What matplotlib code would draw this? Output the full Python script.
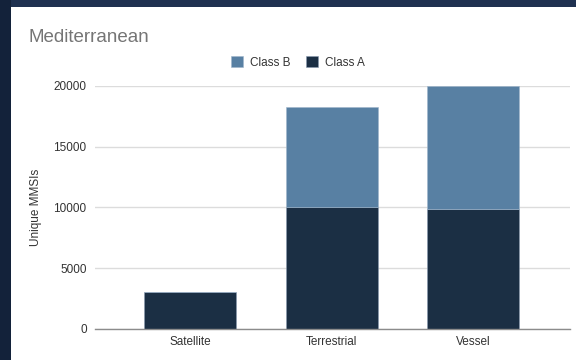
import matplotlib.pyplot as plt
from matplotlib.patches import Rectangle

plt.rcParams['font.family'] = ['Liberation Sans', 'DejaVu Sans']

# data
sources = ['Satellite', 'Terrestrial', 'Vessel']
class_a = [3000, 10000, 9900]
class_b = [0, 8300, 10100]
yticks = [0, 5000, 10000, 15000, 20000]

col_a = '#1b2f44'
col_b = '#5880a3'

fig = plt.figure(figsize=(5.76, 3.6), dpi=100)
fig.patch.set_facecolor('white')
ax = fig.add_axes([95 / 576, 1 - 328.7 / 360, 475 / 576, 242.7 / 360])

x = range(len(sources))
bars_a = ax.bar(x, class_a, width=0.65, color=col_a, edgecolor='#8a9bb0',
                linewidth=0.4, zorder=3, label='Class A')
bars_b = ax.bar(x, class_b, width=0.65, bottom=class_a, color=col_b,
                edgecolor='#9fb6cc', linewidth=0.4, zorder=3, label='Class B')

ax.set_xlim(-0.675, 2.685)
ax.set_ylim(0, 20000)
ax.set_yticks(yticks)
ax.set_yticklabels([str(v) for v in yticks])
ax.set_xticks(list(x))
ax.set_xticklabels(sources)
ax.tick_params(axis='both', length=0, labelsize=8.5, colors='#333333')
ax.tick_params(axis='y', pad=6)
ax.tick_params(axis='x', pad=5)
ax.grid(axis='y', color='#dcdcdc', linewidth=1, zorder=0)
for s in ['top', 'right', 'left']:
    ax.spines[s].set_visible(False)
ax.spines['bottom'].set_color('#8c8c8c')
ax.spines['bottom'].set_linewidth(1)
ax.spines['bottom'].set_zorder(4)

ax.set_ylabel('Unique MMSIs', fontsize=8.5, color='#333333', labelpad=8)

fig.text(28 / 576, 1 - 42 / 360, 'Mediterranean', fontsize=13.5,
         color='#757575', ha='left', va='baseline')

fig.legend(handles=[bars_b, bars_a], labels=['Class B', 'Class A'],
           loc='center', bbox_to_anchor=(298 / 576, 1 - 62.5 / 360),
           ncol=2, frameon=False, fontsize=8.5, handlelength=1.0,
           handleheight=1.0, handletextpad=0.6, columnspacing=1.3,
           labelcolor='#333333')

# dark screenshot frame
fig.add_artist(Rectangle((0, 1 - 7 / 360), 1, 7 / 360, transform=fig.transFigure,
                         facecolor='#1f3150', edgecolor='none', zorder=10))
fig.add_artist(Rectangle((0, 0), 11 / 576, 1, transform=fig.transFigure,
                         facecolor='#13223a', edgecolor='none', zorder=10))

fig.savefig('out.png', dpi=100)
